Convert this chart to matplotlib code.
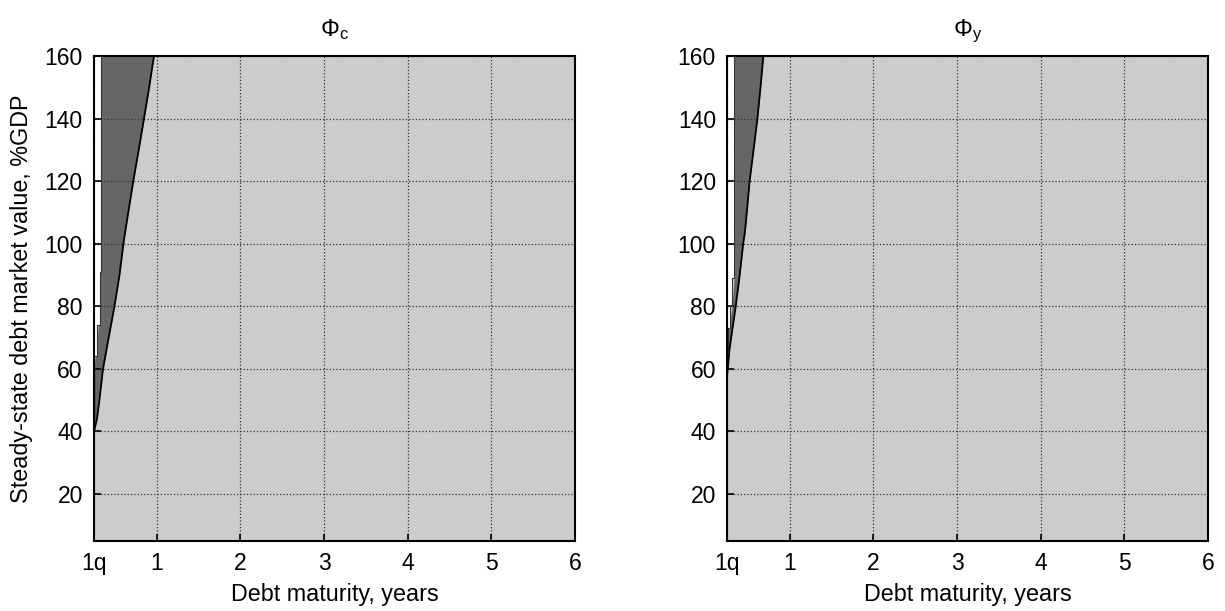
import matplotlib
matplotlib.use("Agg")
import matplotlib.pyplot as plt
import numpy as np

plt.rcParams["font.family"] = ["Liberation Sans", "DejaVu Sans"]
plt.rcParams["mathtext.fontset"] = "custom"
plt.rcParams["mathtext.rm"] = "Liberation Sans"
plt.rcParams["mathtext.it"] = "Liberation Sans"

# boundaries: debt level (%GDP) -> maturity (years)
phic_y = [160, 150, 140, 130, 120, 110, 101, 90, 80, 70, 60, 50, 44, 40]
phic_x = [0.967, 0.91, 0.848, 0.785, 0.72, 0.66, 0.607, 0.555, 0.495, 0.426, 0.358, 0.315, 0.286, 0.25]
phic_gap_y = [160, 91, 91, 74, 74, 64, 64, 40]
phic_gap_x = [0.337, 0.337, 0.318, 0.318, 0.29, 0.29, 0.25, 0.25]

phiy_y = [160, 150, 140, 130, 120, 110, 104, 100, 89, 80, 72, 66, 61, 58]
phiy_x = [0.684, 0.65, 0.613, 0.567, 0.52, 0.486, 0.465, 0.443, 0.397, 0.354, 0.31, 0.278, 0.262, 0.25]
phiy_gap_y = [160, 89, 89, 80, 80, 73, 73, 66, 66, 58]
phiy_gap_x = [0.334, 0.334, 0.31, 0.31, 0.286, 0.286, 0.265, 0.265, 0.25, 0.25]

x_ticks = [0.25, 1, 2, 3, 4, 5, 6]
x_labels = ["1q", "1", "2", "3", "4", "5", "6"]
y_ticks = [20, 40, 60, 80, 100, 120, 140, 160]

panels = [
    (r"$\Phi_\mathrm{c}$", phic_y, phic_x, phic_gap_y, phic_gap_x),
    (r"$\Phi_\mathrm{y}$", phiy_y, phiy_x, phiy_gap_y, phiy_gap_x),
]

fig = plt.figure(figsize=(12.25, 6.11), dpi=100)
positions = [[0.0767, 0.1146, 0.3927, 0.7937], [0.5935, 0.1146, 0.3927, 0.7937]]

for i, (title, by, bx, gy, gx) in enumerate(panels):
    ax = fig.add_axes(positions[i])
    ax.set_facecolor("#cccccc")
    by = np.array(by, dtype=float)
    bx = np.array(bx, dtype=float)
    gy = np.array(gy, dtype=float)
    gx = np.array(gx, dtype=float)

    # dark region between the left gap edge and the black boundary
    gx_on_b = np.interp(by, gy[::-1], gx[::-1])
    ax.fill_betweenx(by, gx_on_b, bx, color="#666666", lw=0, zorder=1)
    # white gap along the left edge
    ax.fill_betweenx(gy, 0.25, gx, color="white", lw=0, zorder=1.5)
    ax.plot(gx, gy, color="#333333", lw=0.8, zorder=2)
    ax.plot(bx, by, color="black", lw=1.3, zorder=2)

    ax.set_xlim(0.25, 6)
    ax.set_ylim(5, 160)
    ax.set_xticks(x_ticks)
    ax.set_xticklabels(x_labels)
    ax.set_yticks(y_ticks)
    ax.grid(True, linestyle=":", color="#333333", linewidth=0.9)
    for line in ax.get_xgridlines() + ax.get_ygridlines():
        line.set_zorder(1.8)
    ax.tick_params(direction="in", length=5, width=1.2, labelsize=16.5, pad=8)
    for sp in ax.spines.values():
        sp.set_linewidth(1.5)
        sp.set_zorder(3)
    ax.set_xlabel("Debt maturity, years", fontsize=16.8, labelpad=6)
    ax.set_title(title, fontsize=17, pad=14)
    if i == 0:
        ax.set_ylabel("Steady-state debt market value, %GDP", fontsize=16.8, labelpad=8)

fig.savefig("out.png", dpi=100)
